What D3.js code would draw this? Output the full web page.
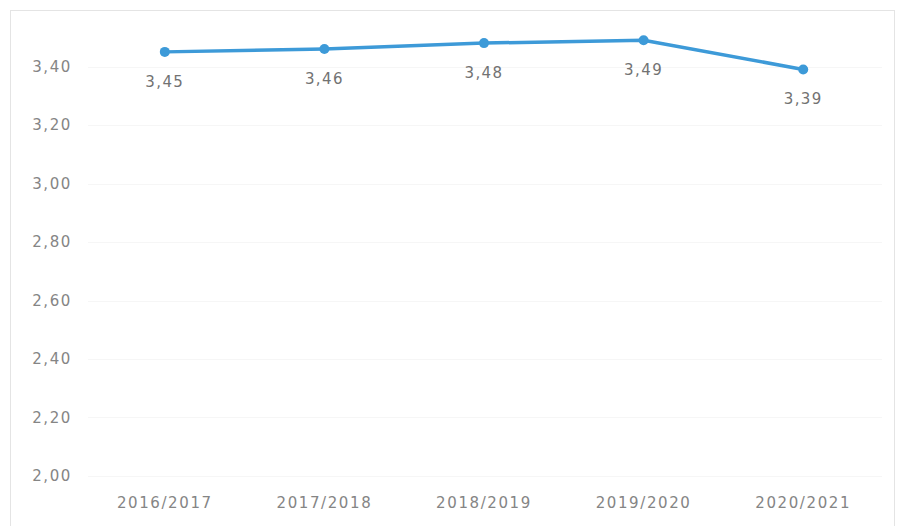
<!DOCTYPE html>
<html>
<head>
<meta charset="utf-8">
<script src="https://cdn.jsdelivr.net/npm/d3@7"></script>
<style>
  html, body { margin: 0; padding: 0; background: #fff; }
  svg { display: block; font-family: "DejaVu Sans", sans-serif; }
</style>
</head>
<body>
<svg id="chart" width="900" height="526"></svg>
<script>
// Academic years and average score per year
const categories = ["2016/2017", "2017/2018", "2018/2019", "2019/2020", "2020/2021"];
const values = [3.45, 3.46, 3.48, 3.49, 3.39];
const yTicks = [2.0, 2.2, 2.4, 2.6, 2.8, 3.0, 3.2, 3.4];

const fmt = v => d3.format(".2f")(v).replace(".", ",");

const svg = d3.select("#chart");

// outer frame
svg.append("rect")
  .attr("x", 10.5).attr("y", 10.5)
  .attr("width", 884).attr("height", 530)
  .attr("fill", "none").attr("stroke", "#e4e4e4");

const x = d3.scaleBand().domain(categories).range([85, 883]);
const y = d3.scaleLinear().domain([2.0, 3.6]).range([476, 8]);

// horizontal gridlines
svg.append("g")
  .selectAll("line")
  .data(yTicks)
  .join("line")
  .attr("x1", 88).attr("x2", 882)
  .attr("y1", d => Math.round(y(d)) + 0.5)
  .attr("y2", d => Math.round(y(d)) + 0.5)
  .attr("stroke", "#f6f6f6");

// y axis labels
const yAxis = d3.axisLeft(y).tickValues(yTicks).tickFormat(fmt).tickSize(0).tickPadding(0);
const gy = svg.append("g").attr("transform", "translate(72,0)").call(yAxis);
gy.select(".domain").remove();
gy.selectAll("text")
  .attr("fill", "#858585")
  .style("font-size", "15px")
  .style("letter-spacing", "1.6px")
  .attr("font-family", "DejaVu Sans, sans-serif");

// x axis labels
const xAxis = d3.axisBottom(x).tickSize(0).tickPadding(0);
const gx = svg.append("g").attr("transform", "translate(0,497)").call(xAxis);
gx.select(".domain").remove();
gx.selectAll("text")
  .attr("fill", "#858585")
  .style("font-size", "15px")
  .style("letter-spacing", "1.6px")
  .attr("font-family", "DejaVu Sans, sans-serif");

const pts = categories.map((c, i) => ({ c, v: values[i] }));
const cx = d => x(d.c) + x.bandwidth() / 2;

// series line
svg.append("path")
  .datum(pts)
  .attr("fill", "none")
  .attr("stroke", "#3d9ad8")
  .attr("stroke-width", 3.5)
  .attr("stroke-linejoin", "round")
  .attr("d", d3.line().x(cx).y(d => y(d.v)));

// markers
svg.append("g")
  .selectAll("circle")
  .data(pts)
  .join("circle")
  .attr("cx", cx)
  .attr("cy", d => y(d.v))
  .attr("r", 5)
  .attr("fill", "#3d9ad8");

// value labels below each point
svg.append("g")
  .selectAll("text")
  .data(pts)
  .join("text")
  .attr("x", cx)
  .attr("y", d => y(d.v) + 35)
  .attr("text-anchor", "middle")
  .attr("fill", "#727272")
  .style("font-size", "15px")
  .style("letter-spacing", "1.4px")
  .text(d => fmt(d.v));
</script>
</body>
</html>
